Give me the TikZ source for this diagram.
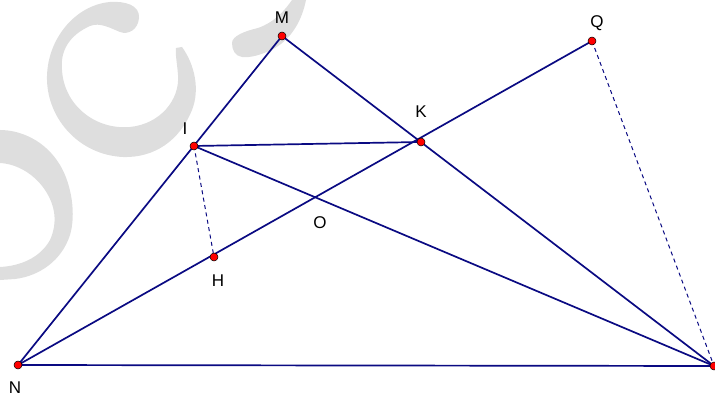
\documentclass[tikz,border=0pt]{standalone}
\usepackage{fontspec}
\setmainfont{Liberation Sans}
\definecolor{segblue}{RGB}{10,10,130}
\definecolor{wmgray}{RGB}{222,222,222}
\tikzset{
  seg/.style={draw=segblue,line width=1.7pt},
  aux/.style={draw=segblue,line width=1pt,dash pattern=on 4pt off 3.5pt},
  pt/.style={circle,fill=red,draw=black,line width=0.5pt,inner sep=0pt,minimum size=8pt},
  lab/.style={font=\fontsize{17}{19}\selectfont,inner sep=0pt}
}
\begin{document}
\begin{tikzpicture}[x=1pt,y=-1pt]
\useasboundingbox (0,0) rectangle (715,398);
% watermark
\fill[wmgray] (0,130) .. controls (20,130) and (45,140) .. (60,165)
  .. controls (72,185) and (76,215) .. (70,235) .. controls (62,260) and (40,276) .. (15,279)
  -- (0,280) -- (0,267) .. controls (20,266) and (40,258) .. (50,240)
  .. controls (58,222) and (55,205) .. (45,190) .. controls (35,175) and (18,164) .. (0,163) -- cycle;
\fill[wmgray] (182,47) .. controls (195,65) and (200,90) .. (192,110)
  .. controls (180,140) and (155,158) .. (123,157) .. controls (80,155) and (48,120) .. (47,80)
  .. controls (46,40) and (75,5) .. (110,2) .. controls (125,1) and (140,5) .. (139,18)
  .. controls (138,30) and (128,35) .. (120,32) .. controls (110,28) and (100,22) .. (90,26)
  .. controls (70,35) and (60,50) .. (62,70) .. controls (64,105) and (95,130) .. (130,127)
  .. controls (160,124) and (180,100) .. (178,75) .. controls (177,62) and (175,53) .. (176,48) -- cycle;
\fill[wmgray] (232,43) .. controls (232,36) and (245,31) .. (258,28)
  .. controls (275,22) and (285,10) .. (292,0) -- (306,0)
  .. controls (302,20) and (292,38) .. (275,48) .. controls (262,55) and (250,58) .. (242,57)
  .. controls (235,56) and (232,50) .. (232,43) -- cycle;
% points
\coordinate (M) at (282,36);
\coordinate (N) at (18,365);
\coordinate (P) at (714,366);
\coordinate (I) at (194,146);
\coordinate (K) at (421,142);
\coordinate (Q) at (592,41);
\coordinate (H) at (214,257);
% segments
\draw[seg] (M) -- (N) -- (P) -- cycle;
\draw[seg] (I) -- (K);
\draw[seg] (I) -- (P);
\draw[seg] (N) -- (Q);
\draw[aux] (I) -- (H);
\draw[aux] (Q) -- (P);
% dots
\foreach \p in {M,N,P,I,K,Q,H}
  \node[pt] at (\p) {};
% labels
\node[lab] (lM) at (282,18){M};
\node[lab] (lK) at (421,112){K};
\node[lab] (lI) at (185,129){I};
\node[lab] (lQ) at (597,23){Q};
\node[lab] (lH) at (218,281){H};
\node[lab] (lN) at (15,388){N};
\node[lab] (lO) at (320,223){O};
\end{tikzpicture}
\end{document}
